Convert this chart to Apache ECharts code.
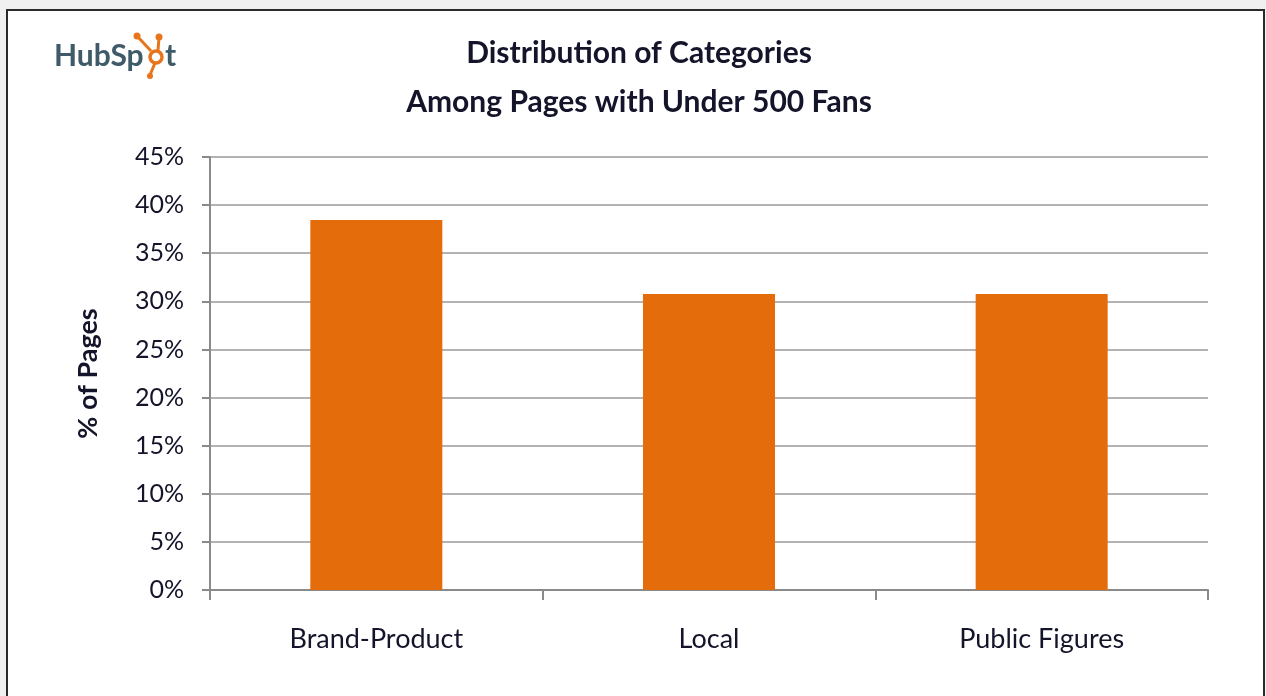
<!DOCTYPE html>
<html>
<head>
<meta charset="utf-8">
<script src="https://cdn.jsdelivr.net/npm/echarts@6/dist/echarts.min.js"></script>
<style>
html,body{margin:0;padding:0;background:#f0f0f0;}
#frame{position:absolute;left:6px;top:9px;width:1255px;height:700px;border:2px solid #2a2a2a;border-bottom:none;background:#fff;}
#chart{position:absolute;left:0;top:0;width:1266px;height:696px;}
</style>
</head>
<body>
<div id="frame"></div>
<div id="chart"></div>
<script>
const titleLines = ['Distribution of Categories', 'Among Pages with Under 500 Fans'];
const categories = ['Brand-Product', 'Local', 'Public Figures'];
const values = [38.46, 30.77, 30.77];
const yAxisName = '% of Pages';
const yMin = 0, yMax = 45, yStep = 5;

const chart = echarts.init(document.getElementById('chart'), null, {renderer: 'canvas'});
const font = 'Lato, "Open Sans", "DejaVu Sans", sans-serif';
const ink = '#14142a';
const axisGray = '#8a8a8a';
const orange = '#e8741c';
const logoFont = {fontFamily: 'Lato, "Open Sans", sans-serif', fontSize: 30, fontWeight: 'bold', fill: '#3f5a69'};

chart.setOption({
  backgroundColor: 'transparent',
  animation: false,
  title: {
    text: titleLines.join('\n'),
    left: 634, top: 24, textAlign: 'center',
    textStyle: {fontFamily: font, fontSize: 30, fontWeight: 'bold', color: ink, lineHeight: 49}
  },
  graphic: [
    {type: 'text', left: 54, top: 41, style: Object.assign({text: 'HubSp'}, logoFont)},
    {type: 'text', left: 165, top: 41, style: Object.assign({text: 't'}, logoFont)},
    {type: 'circle', shape: {cx: 156, cy: 57, r: 6}, style: {fill: 'none', stroke: orange, lineWidth: 3.5}},
    {type: 'line', shape: {x1: 138, y1: 37, x2: 151, y2: 51}, style: {stroke: orange, lineWidth: 3}},
    {type: 'circle', shape: {cx: 137, cy: 36, r: 3.5}, style: {fill: orange}},
    {type: 'line', shape: {x1: 159, y1: 38, x2: 158, y2: 50}, style: {stroke: orange, lineWidth: 3}},
    {type: 'circle', shape: {cx: 159, cy: 37, r: 3.5}, style: {fill: orange}},
    {type: 'line', shape: {x1: 155, y1: 63, x2: 150, y2: 75}, style: {stroke: orange, lineWidth: 3}},
    {type: 'circle', shape: {cx: 150, cy: 76, r: 3}, style: {fill: orange}}
  ],
  grid: {left: 210, right: 58, top: 157, bottom: 106, containLabel: false},
  xAxis: {
    type: 'category',
    data: categories,
    boundaryGap: true,
    axisLine: {lineStyle: {color: axisGray, width: 2}},
    axisTick: {show: true, length: 10, alignWithLabel: false, lineStyle: {color: axisGray, width: 2}},
    axisLabel: {fontFamily: font, fontSize: 27, color: ink, margin: 36},
    splitLine: {show: false}
  },
  yAxis: {
    type: 'value',
    min: yMin, max: yMax, interval: yStep,
    name: yAxisName,
    nameLocation: 'middle',
    nameGap: 108,
    nameRotate: 90,
    nameTextStyle: {fontFamily: font, fontSize: 27, fontWeight: 'bold', color: ink},
    axisLine: {show: true, lineStyle: {color: axisGray, width: 2}},
    axisTick: {show: true, length: 8, lineStyle: {color: axisGray, width: 2}},
    axisLabel: {fontFamily: font, fontSize: 25, color: ink, margin: 26, formatter: v => v + '%'},
    splitLine: {show: true, lineStyle: {color: '#9a9a9a', width: 1.5}}
  },
  series: [{
    type: 'bar',
    data: values,
    barWidth: 132,
    itemStyle: {color: '#e46c0a'}
  }]
});
</script>
</body>
</html>
